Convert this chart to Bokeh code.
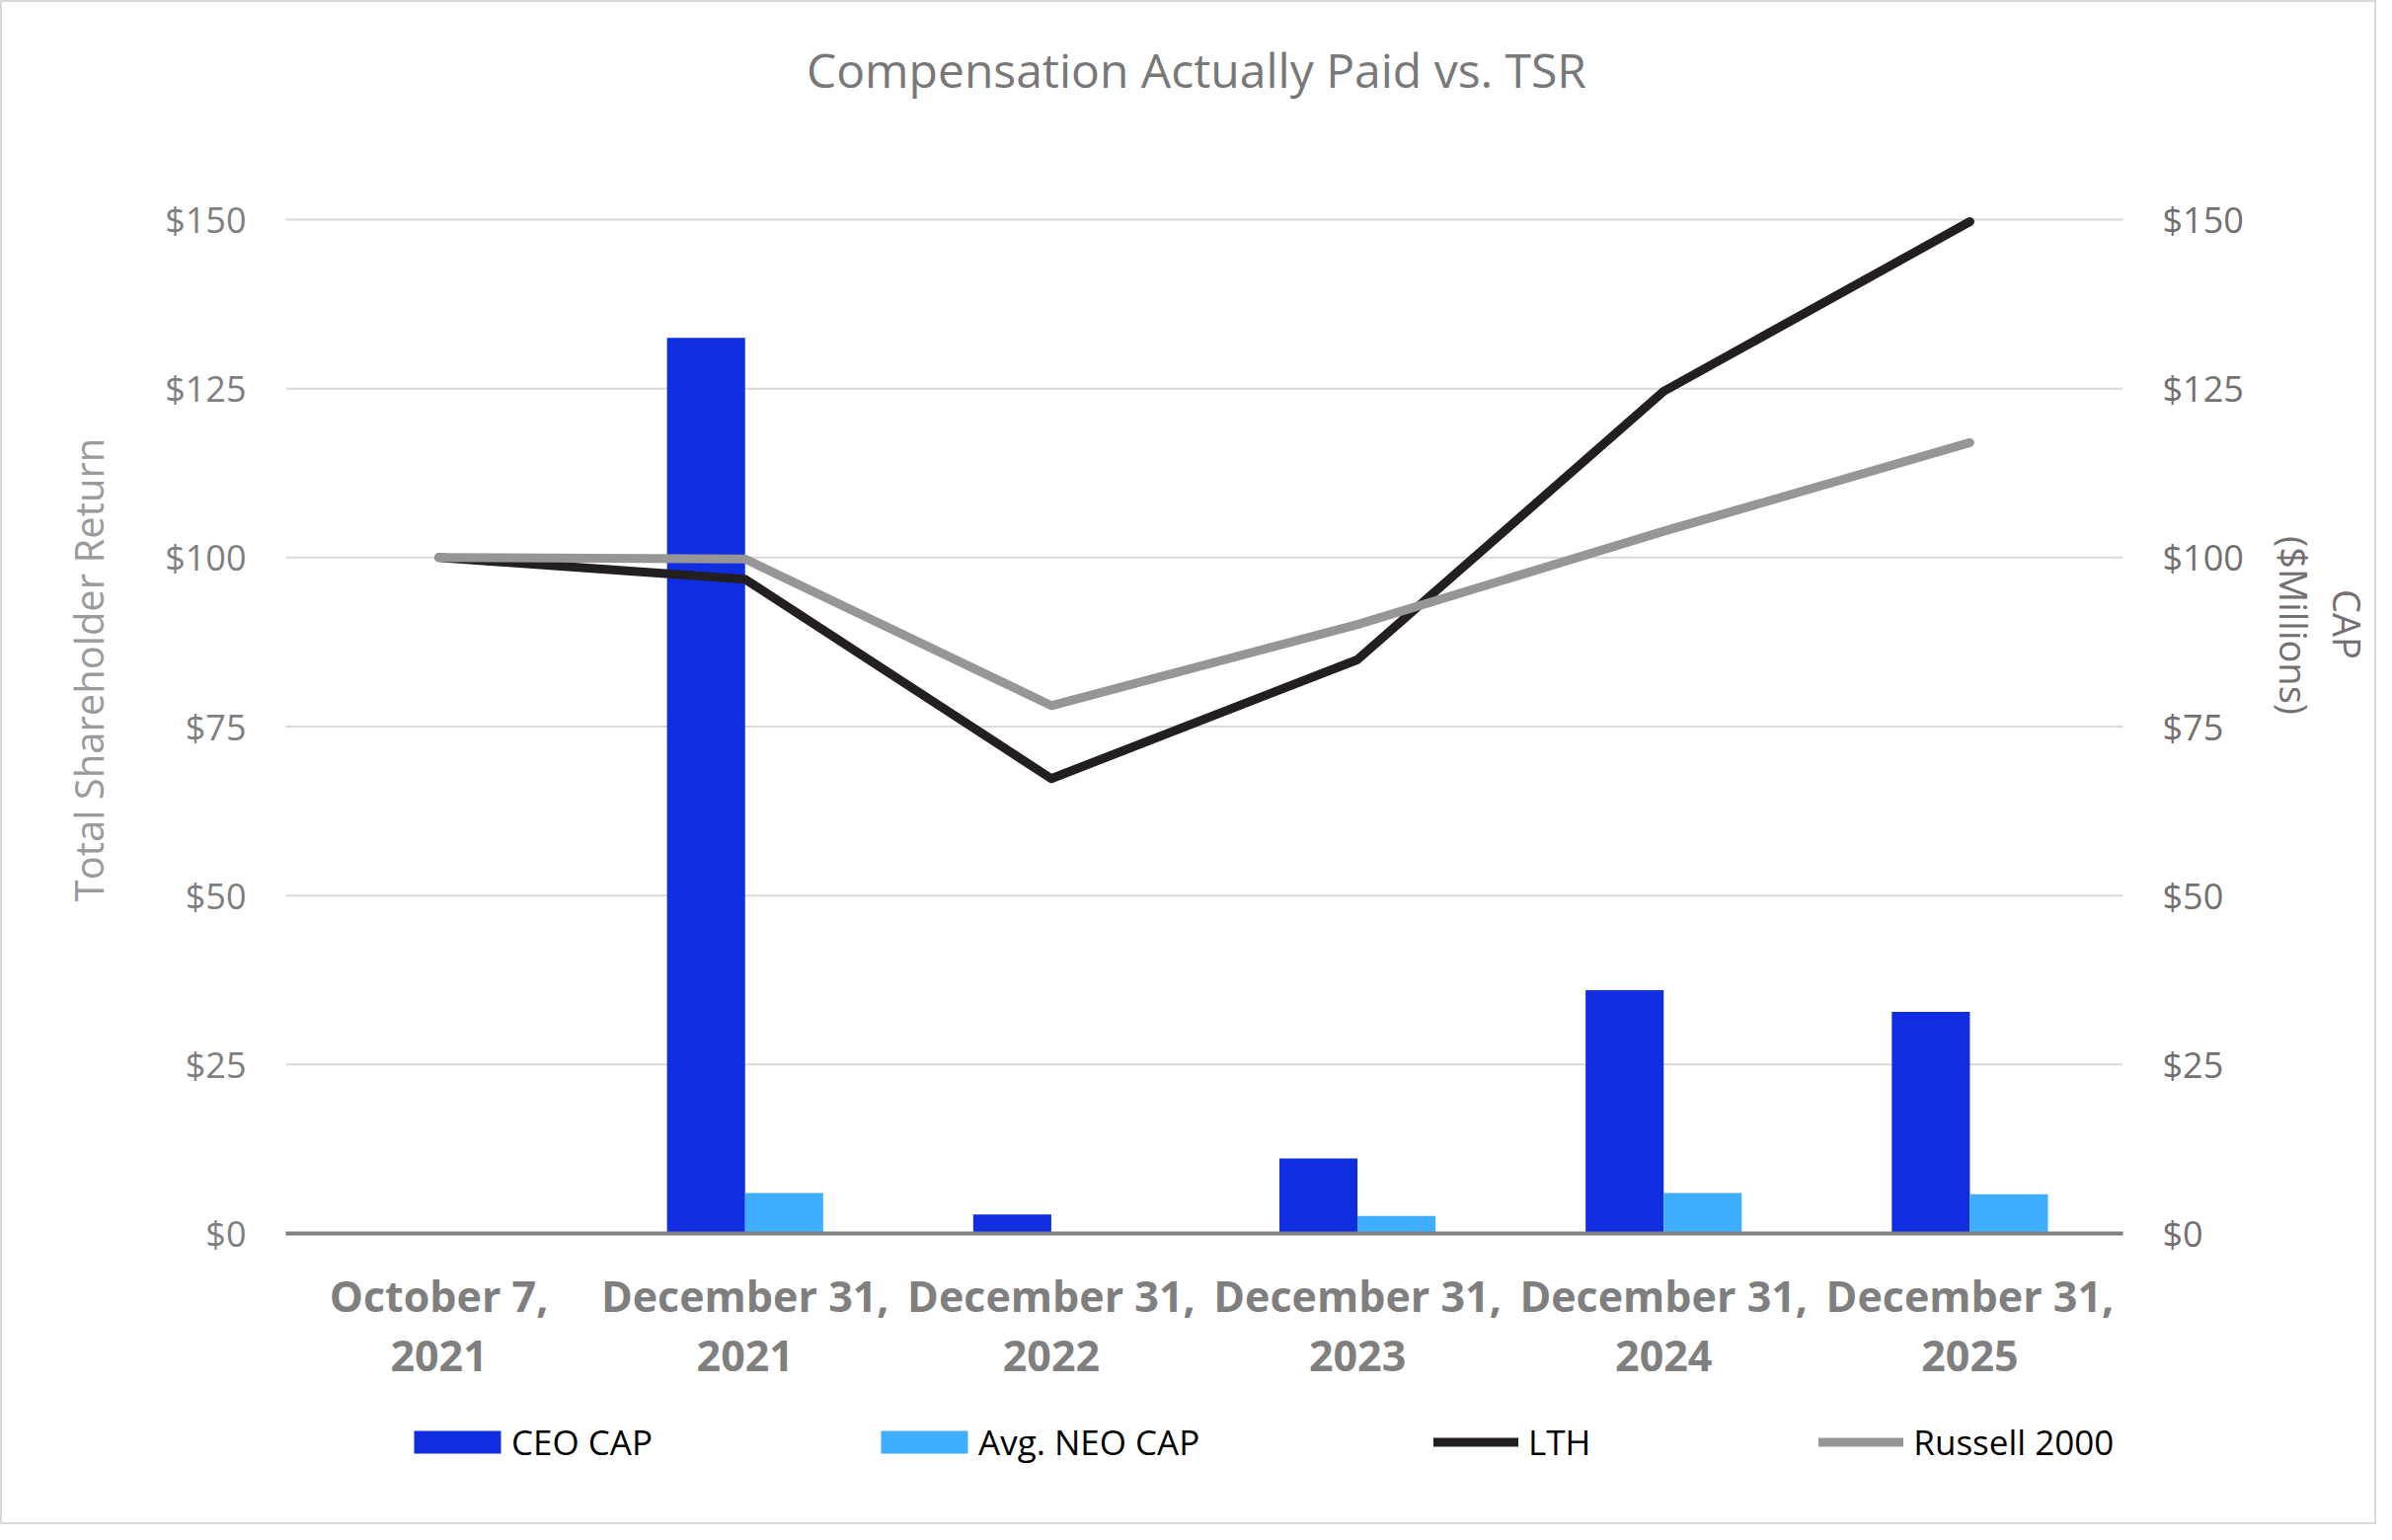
import math
from bokeh.plotting import figure
from bokeh.models import (ColumnDataSource, Range1d, LinearAxis, FixedTicker,
                          NumeralTickFormatter, Label, Legend, LegendItem)
from bokeh.embed import file_html
from bokeh.resources import INLINE

# ---------------- data ----------------
dates = ["October 7,\n2021", "December 31,\n2021", "December 31,\n2022",
         "December 31,\n2023", "December 31,\n2024", "December 31,\n2025"]
ceo_cap = [0.0, 132.5, 2.8, 11.1, 36.0, 32.8]        # $ millions
neo_cap = [0.0, 6.0, 0.0, 2.6, 6.0, 5.8]             # $ millions
lth_tsr = [100.0, 96.8, 67.3, 84.9, 124.6, 149.7]     # $
russell_tsr = [100.0, 99.8, 78.1, 90.1, 103.9, 117.0]  # $
y_ticks = [0, 25, 50, 75, 100, 125, 150]

title_text = "Compensation Actually Paid vs. TSR"
left_title = "Total Shareholder Return"
right_title_1 = "CAP"
right_title_2 = "($Millions)"
bar_labels = ["CEO CAP", "Avg. NEO CAP"]
line_labels = ["LTH", "Russell 2000"]

# ---------------- styles / layout ----------------
FONT = "Open Sans"
CEO_COLOR = "#102EE0"
NEO_COLOR = "#3FAEFF"
LTH_COLOR = "#231F20"
RUS_COLOR = "#969696"
GRID_COLOR = "#D9D9D9"
TICK_COLOR = "#7F7F7F"

W, H = 2407, 1544
PL, PR, PB = 289, 2150, 1249          # plot-area left/right/zero-line in px
PY150 = 222                           # px of the $150 gridline
n = len(dates)
px_x = (PR - PL) / n                  # px per category
px_y = (PB - PY150) / 150.0           # px per $

# data ranges chosen so that the whole canvas is the frame
x0 = -0.5 - PL / px_x
x1 = -0.5 + (W - PL) / px_x
y0 = -(H - PB) / px_y
y1 = PB / px_y

idx = list(range(n))
bw = 0.255
src = ColumnDataSource(dict(
    xc=idx,
    xceo=[i - bw / 2 for i in idx],
    xneo=[i + bw / 2 for i in idx],
    ceo=ceo_cap, neo=neo_cap, lth=lth_tsr, rus=russell_tsr))

p = figure(x_range=Range1d(x0, x1), y_range=Range1d(y0, y1),
           width=W, height=H, output_backend="svg", toolbar_location=None,
           x_axis_location=None, y_axis_location=None, min_border=0)
p.outline_line_color = "#D9D9D9"
p.outline_line_width = 3
p.background_fill_color = "white"
p.border_fill_color = "white"
p.xgrid.visible = False
p.ygrid.visible = False

ticker = FixedTicker(ticks=y_ticks)

# gridlines across the plot area only
grid_y = [t for t in y_ticks if t > 0]
p.segment(x0=[-0.5] * len(grid_y), x1=[n - 0.5] * len(grid_y), y0=grid_y, y1=grid_y,
          line_color=GRID_COLOR, line_width=2)

# bars
r_ceo = p.vbar(x="xceo", top="ceo", width=bw, source=src,
               fill_color=CEO_COLOR, line_color=None)
r_neo = p.vbar(x="xneo", top="neo", width=bw, source=src,
               fill_color=NEO_COLOR, line_color=None)

# lines
r_lth = p.line(x="xc", y="lth", source=src, line_color=LTH_COLOR, line_width=9,
               line_cap="round", line_join="round")
r_rus = p.line(x="xc", y="rus", source=src, line_color=RUS_COLOR, line_width=9,
               line_cap="round", line_join="round")

# left axis
ly = LinearAxis(fixed_location=-0.5, bounds=(0, 150), ticker=ticker,
                formatter=NumeralTickFormatter(format="$0,0"))
ly.axis_line_color = None
ly.major_tick_line_color = None
ly.minor_tick_line_color = None
ly.major_tick_out = 0
ly.major_tick_in = 0
ly.major_label_standoff = 40
ly.major_label_text_font = FONT
ly.major_label_text_font_size = "36px"
ly.major_label_text_color = TICK_COLOR
p.add_layout(ly, "left")

# right axis (CAP, same scale)
ry = LinearAxis(fixed_location=n - 0.5, bounds=(0, 150), ticker=ticker,
                formatter=NumeralTickFormatter(format="$0,0"))
ry.axis_line_color = None
ry.major_tick_line_color = None
ry.minor_tick_line_color = None
ry.major_tick_out = 0
ry.major_tick_in = 0
ry.major_label_standoff = 40
ry.major_label_text_font = FONT
ry.major_label_text_font_size = "36px"
ry.major_label_text_color = "#757070"
p.add_layout(ry, "right")

# bottom axis
bx = LinearAxis(fixed_location=0, bounds=(-0.5, n - 0.5), ticker=FixedTicker(ticks=idx),
                major_label_overrides={i: d for i, d in zip(idx, dates)})
bx.axis_line_color = "#808080"
bx.axis_line_width = 4
bx.major_tick_line_color = None
bx.minor_tick_line_color = None
bx.major_tick_out = 0
bx.major_tick_in = 0
bx.major_label_standoff = 33
bx.major_label_text_font = FONT
bx.major_label_text_font_style = "bold"
bx.major_label_text_font_size = "43px"
bx.major_label_text_color = TICK_COLOR
bx.major_label_text_line_height = 1.03
p.add_layout(bx, "below")

# legends (bars and lines separately, to size their glyphs like the original)
leg_common = dict(orientation="horizontal", padding=0, margin=0, border_line_color=None,
                  background_fill_alpha=0, label_text_font=FONT,
                  label_text_font_size="35px", label_text_color="#000000", label_height=23)
leg_bars = Legend(items=[LegendItem(label=l, renderers=[r]) for l, r in
                         zip(bar_labels, [r_ceo, r_neo])],
                  location=(408, 60), glyph_width=110, glyph_height=29,
                  label_standoff=0, spacing=220, **leg_common)
p.add_layout(leg_bars)
leg_lines = Legend(items=[LegendItem(label=l, renderers=[r]) for l, r in
                          zip(line_labels, [r_lth, r_rus])],
                   location=(1452, 60), glyph_width=86, glyph_height=23,
                   label_standoff=10, spacing=231, **leg_common)
p.add_layout(leg_lines)

# title
p.add_layout(Label(x=1211.5, y=H - 70, x_units="screen", y_units="screen",
                   text=title_text, text_align="center", text_baseline="alphabetic",
                   text_font=FONT, text_font_size="48px", text_color="#787878"))
# left axis title
p.add_layout(Label(x=89, y=H - 678, x_units="screen", y_units="screen",
                   text=left_title, angle=math.pi / 2, angle_units="rad",
                   text_align="center", text_baseline="middle",
                   text_font=FONT, text_font_size="40px", text_color="#9A9A9A"))
# right axis title (two lines)
p.add_layout(Label(x=2377, y=H - 632, x_units="screen", y_units="screen",
                   text=right_title_1, angle=-math.pi / 2, angle_units="rad",
                   text_align="center", text_baseline="middle",
                   text_font=FONT, text_font_size="38px", text_color="#757070"))
p.add_layout(Label(x=2323, y=H - 633, x_units="screen", y_units="screen",
                   text=right_title_2, angle=-math.pi / 2, angle_units="rad",
                   text_align="center", text_baseline="middle",
                   text_font=FONT, text_font_size="38px", text_color="#757070"))

open("out.html", "w").write(file_html(p, INLINE))
